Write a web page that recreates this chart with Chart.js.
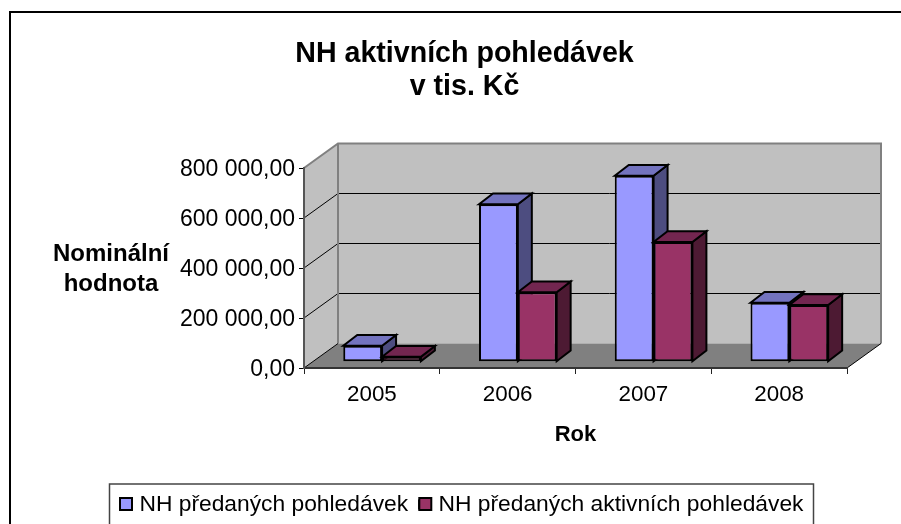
<!DOCTYPE html>
<html><head><meta charset="utf-8">
<style>html,body{margin:0;padding:0;background:#fff}#w{width:901px;height:524px}</style>
<script src="https://cdn.jsdelivr.net/npm/chart.js@4"></script>
</head><body><div id="w"><canvas id="c" width="901" height="524"></canvas></div>
<script>
const categories = ['2005','2006','2007','2008'];
const predane = [64000,630000,744000,236000];
const aktivni = [20000,278000,479000,227000];
const seriesNames = ['NH předaných pohledávek','NH předaných aktivních pohledávek'];
const yTickLabels = ['0,00','200 000,00','400 000,00','600 000,00','800 000,00'];
const titleLines = ['NH aktivních pohledávek','v tis. Kč'];
const yTitleLines = ['Nominální','hodnota'];
const xTitle = 'Rok';
const FONT = '"Liberation Sans", Arial, sans-serif';
const wallD = {x:34,y:-24.5}, barOff = {x:10.2,y:-6.3}, barD = {x:14,y:-10.7};
const sideCols = ['#4D4D80','#4D1A33'], topCols = ['#7373BF','#732650'];
const legendMarkerX = [120,419.3];

function poly(ctx, pts, fill, stroke, lw){
  ctx.beginPath(); pts.forEach((p,i)=> i?ctx.lineTo(p[0],p[1]):ctx.moveTo(p[0],p[1])); ctx.closePath();
  if(fill){ctx.fillStyle=fill;ctx.fill();}
  if(stroke){ctx.strokeStyle=stroke;ctx.lineWidth=lw;ctx.lineJoin='miter';ctx.stroke();}
}
const scene = {
  id:'scene',
  afterLayout(chart){
    const t=chart.titleBlock, l=chart.legend;
    if(t){const w=t.right-t.left; t.left=464.5-w/2; t.right=464.5+w/2; t.top=38; t.bottom=t.top+t.height;}
    if(l){l.left=101.5; l.right=822; l.width=720.5; l.top=482; l.bottom=l.top+l.height;}
  },
  beforeDraw(chart){
    const c=chart.ctx,{left:L,right:R,top:T,bottom:B}=chart.chartArea,d=wallD;
    c.save();
    c.fillStyle='#fff'; c.fillRect(0,0,901,524);
    // outer frame: left and top edges are visible, the rest runs out of the picture
    c.strokeStyle='#000'; c.lineWidth=2; c.strokeRect(10,12,900,520);
    // legend frame
    c.lineWidth=1.5; c.strokeStyle='#444'; c.strokeRect(109.5,484,704,60);
    // left wall, back wall, floor
    poly(c,[[L,T],[L+d.x,T+d.y],[L+d.x,B+d.y],[L,B]],'#C0C0C0');
    poly(c,[[L+d.x,T+d.y],[R+d.x,T+d.y],[R+d.x,B+d.y],[L+d.x,B+d.y]],'#C0C0C0');
    poly(c,[[L,B],[L+d.x,B+d.y],[R+d.x,B+d.y],[R,B]],'#808080');
    // gridlines
    const y=chart.scales.y;
    c.lineWidth=1;
    y.ticks.forEach(t=>{
      const py=y.getPixelForValue(t.value);
      c.strokeStyle='#000';
      if(t.value>0 && t.value<y.max){
        c.beginPath();c.moveTo(L,py);c.lineTo(L+d.x,py+d.y);c.lineTo(R+d.x,py+d.y);c.stroke();
      }
    });
    // wall edges
    c.strokeStyle='#808080'; c.lineWidth=2;
    c.beginPath();c.moveTo(L,T);c.lineTo(L+d.x,T+d.y);c.lineTo(R+d.x,T+d.y);c.lineTo(R+d.x,B+d.y);c.stroke();
    c.beginPath();c.moveTo(L+d.x,T+d.y);c.lineTo(L+d.x,B+d.y);c.stroke();
    c.strokeStyle='#000'; c.lineWidth=1;
    c.beginPath();c.moveTo(L,B);c.lineTo(L+d.x,B+d.y);c.stroke();
    c.beginPath();c.moveTo(R,B);c.lineTo(R+d.x,B+d.y);c.stroke();
    c.restore();
  },
  beforeDatasetsDraw(chart){
    const c=chart.ctx;
    c.save();
    c.translate(barOff.x,barOff.y);
    chart.data.datasets.forEach((ds,i)=>{
      const meta=chart.getDatasetMeta(i);
      meta.data.forEach(b=>{
        const l=b.x-b.width/2, r=b.x+b.width/2, t=b.y, bt=b.base, d=barD;
        poly(c,[[r,t],[r+d.x,t+d.y],[r+d.x,bt+d.y],[r,bt]],sideCols[i],'#000',2);
        poly(c,[[l,t],[l+d.x,t+d.y],[r+d.x,t+d.y],[r,t]],topCols[i],'#000',2);
      });
      meta.controller.draw();
    });
    c.restore();
    return false;
  },
  afterDraw(chart){
    const c=chart.ctx;
    c.save();
    c.fillStyle='#000'; c.font='bold 24px '+FONT; c.textAlign='center'; c.textBaseline='middle';
    yTitleLines.forEach((s,i)=>c.fillText(s,111,254+i*30));
    // legend keys: larger than the gap the built-in legend leaves before its text
    chart.data.datasets.forEach((ds,i)=>{
      c.fillStyle=ds.backgroundColor; c.strokeStyle='#000'; c.lineWidth=2;
      c.fillRect(legendMarkerX[i],498,12,12); c.strokeRect(legendMarkerX[i],498,12,12);
    });
    c.restore();
  }
};
new Chart(document.getElementById('c'),{
  type:'bar',
  data:{labels:categories,datasets:[
    {label:seriesNames[0],data:predane,backgroundColor:'#9999FF',borderColor:'#000',borderWidth:2,borderSkipped:false,inflateAmount:0},
    {label:seriesNames[1],data:aktivni,backgroundColor:'#993366',borderColor:'#000',borderWidth:2,borderSkipped:false,inflateAmount:0}
  ]},
  plugins:[scene],
  options:{
    responsive:false,animation:false,
    datasets:{bar:{categoryPercentage:0.572,barPercentage:1}},
    layout:{padding:{left:4,right:54,top:102,bottom:0}},
    plugins:{
      tooltip:{enabled:false},
      title:{display:true,text:titleLines,color:'#000',font:{family:FONT,size:28.6,weight:'bold',lineHeight:33/28.6},padding:{top:0,bottom:0}},
      legend:{display:true,position:'bottom',labels:{color:'#000',font:{family:FONT,size:22.8},boxWidth:8,boxHeight:8,padding:11}}
    },
    scales:{
      x:{grid:{display:true,drawOnChartArea:false,drawTicks:true,tickLength:6,tickColor:'#222',offset:true},
         border:{display:true,color:'#333',width:2},
         ticks:{color:'#000',font:{family:FONT,size:22.4},padding:7,maxRotation:0},
         title:{display:true,text:xTitle,color:'#000',font:{family:FONT,size:22,weight:'bold'},padding:{top:0,bottom:32}},
         afterFit(s){s.height=(s.chart.height-(s.chart.legend?s.chart.legend.height:46))-368;}},
      y:{min:0,max:800000,
         afterBuildTicks(s){s.ticks=yTickLabels.map((_,i)=>({value:i*200000}));},
         grid:{display:true,drawOnChartArea:false,tickLength:5,tickColor:'#000'},
         border:{display:true,color:'#555',width:2},
         ticks:{color:'#000',font:{family:FONT,size:23},padding:4,labelOffset:2,callback:(v,i)=>yTickLabels[i]},
         afterFit(s){s.width=300;}}
    }
  }
});
</script></body></html>
